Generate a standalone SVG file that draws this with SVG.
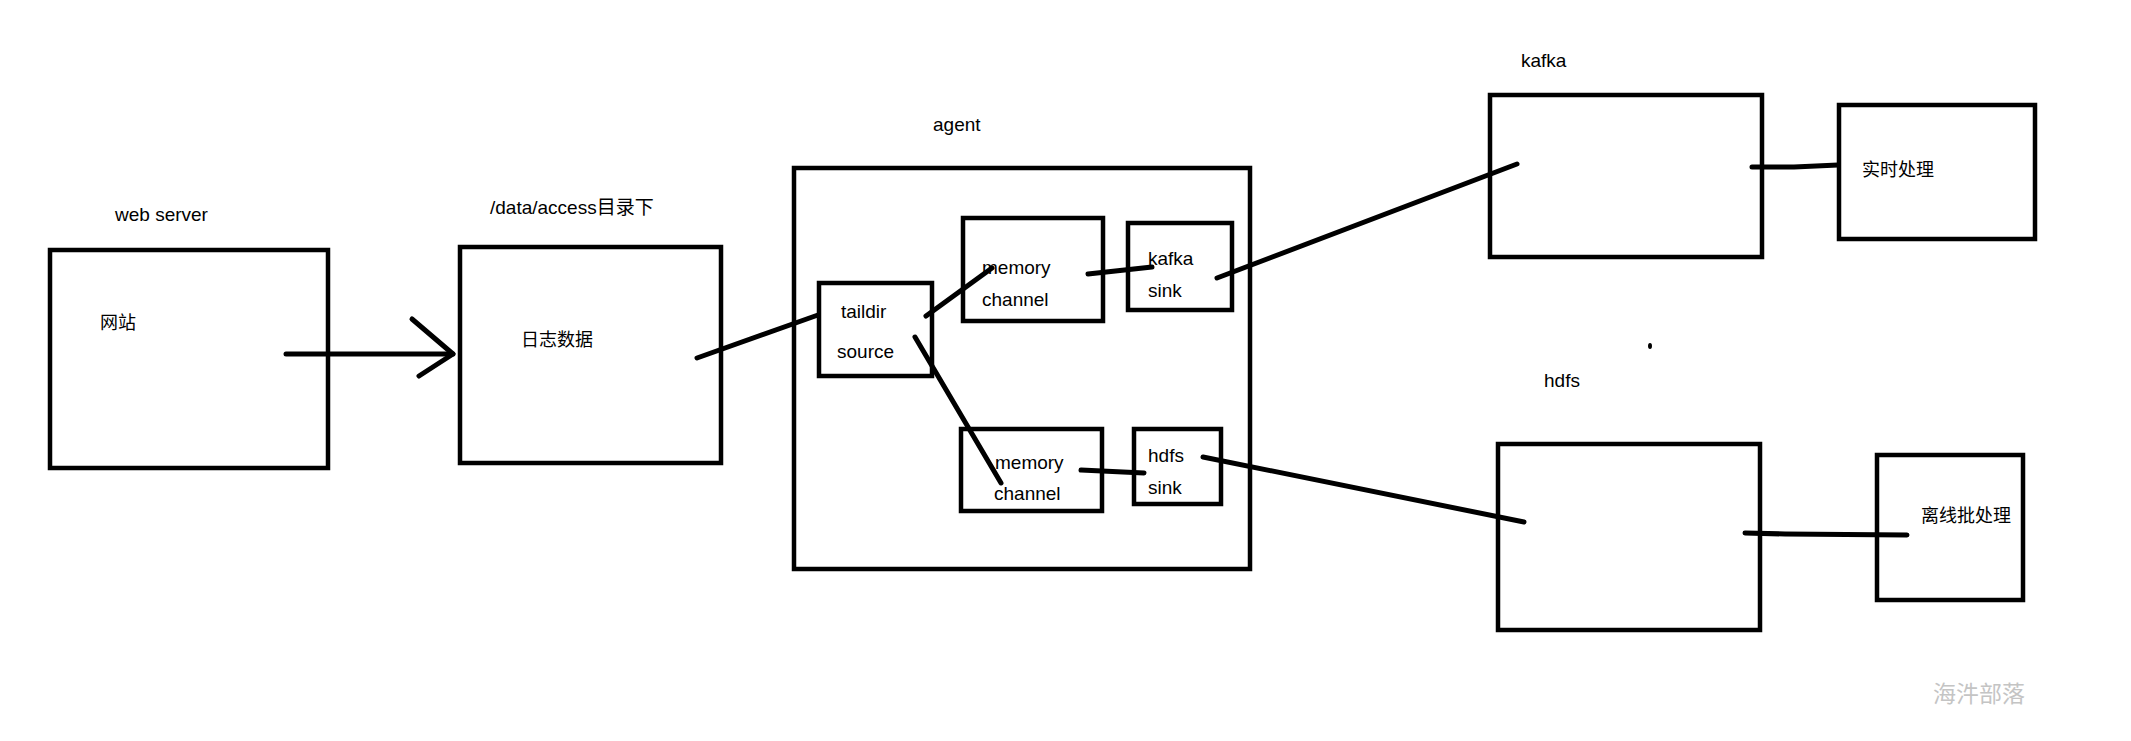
<svg xmlns="http://www.w3.org/2000/svg" width="2131" height="741" viewBox="0 0 2131 741">
<style>
.box{fill:none;stroke:#000;stroke-width:4.5}
.t{font-family:"Liberation Sans","Noto Sans CJK SC",sans-serif;font-size:19px;fill:#000}
.c{font-family:"Liberation Sans","Noto Sans CJK SC",sans-serif;font-size:18px;fill:#000}
.ln{fill:none;stroke:#000;stroke-width:5;stroke-linecap:round;stroke-linejoin:round}
</style>
<rect width="2131" height="741" fill="#fff"/>
<g id="webserver">
<text class="t" x="115" y="221">web server</text>
<rect class="box" x="50" y="250" width="278" height="218"/>
<text class="c" x="100" y="329">网站</text>
</g>
<g id="logdir">
<text class="t" x="490" y="214">/data/access目录下</text>
<rect class="box" x="460" y="247" width="261" height="216"/>
<text class="c" x="521" y="346">日志数据</text>
</g>
<g id="agent">
<text class="t" x="933" y="131">agent</text>
<rect class="box" x="794" y="168" width="456" height="401"/>
</g>
<g id="taildir">
<rect class="box" x="819" y="283" width="113" height="93"/>
<text class="t" x="841" y="318">taildir</text>
<text class="t" x="837" y="358">source</text>
</g>
<g id="memory1">
<rect class="box" x="963" y="218" width="140" height="103"/>
<text class="t" x="982" y="274">memory</text>
<text class="t" x="982" y="306">channel</text>
</g>
<g id="kafkasink">
<rect class="box" x="1128" y="223" width="104" height="87"/>
<text class="t" x="1148" y="265">kafka</text>
<text class="t" x="1148" y="297">sink</text>
</g>
<g id="memory2">
<rect class="box" x="961" y="429" width="141" height="82"/>
<text class="t" x="995" y="469">memory</text>
<text class="t" x="994" y="500">channel</text>
</g>
<g id="hdfssink">
<rect class="box" x="1134" y="429" width="87" height="75"/>
<text class="t" x="1148" y="462">hdfs</text>
<text class="t" x="1148" y="494">sink</text>
</g>
<g id="kafka">
<text class="t" x="1521" y="67">kafka</text>
<rect class="box" x="1490" y="95" width="272" height="162"/>
</g>
<g id="realtime">
<rect class="box" x="1839" y="105" width="196" height="134"/>
<text class="c" x="1862" y="176">实时处理</text>
</g>
<g id="hdfs">
<text class="t" x="1544" y="387">hdfs</text>
<rect class="box" x="1498" y="444" width="262" height="186"/>
</g>
<g id="offline">
<rect class="box" x="1877" y="455" width="146" height="145"/>
<text class="c" x="1921" y="522">离线批处理</text>
</g>
<g id="connectors">
<line class="ln" x1="286" y1="354" x2="453" y2="354"/>
<polyline class="ln" points="412,319 453,354 419,376"/>
<line class="ln" x1="697" y1="358" x2="818" y2="315"/>
<line class="ln" x1="926" y1="316" x2="992" y2="268"/>
<line class="ln" x1="915" y1="337" x2="1001" y2="483"/>
<line class="ln" x1="1088" y1="274" x2="1152" y2="267"/>
<line class="ln" x1="1081" y1="470" x2="1144" y2="473"/>
<line class="ln" x1="1217" y1="278" x2="1517" y2="164"/>
<line class="ln" x1="1203" y1="457" x2="1524" y2="522"/>
<polyline class="ln" points="1752,167 1794,167 1838,165"/>
<polyline class="ln" points="1745,533 1785,534 1907,535"/>
</g>
<ellipse cx="1650" cy="346" rx="2" ry="3" fill="#000"/>
<text x="1933" y="702" font-family="'Noto Sans CJK SC',sans-serif" font-size="23" fill="#c4c4c4">海汼部落</text>
</svg>
